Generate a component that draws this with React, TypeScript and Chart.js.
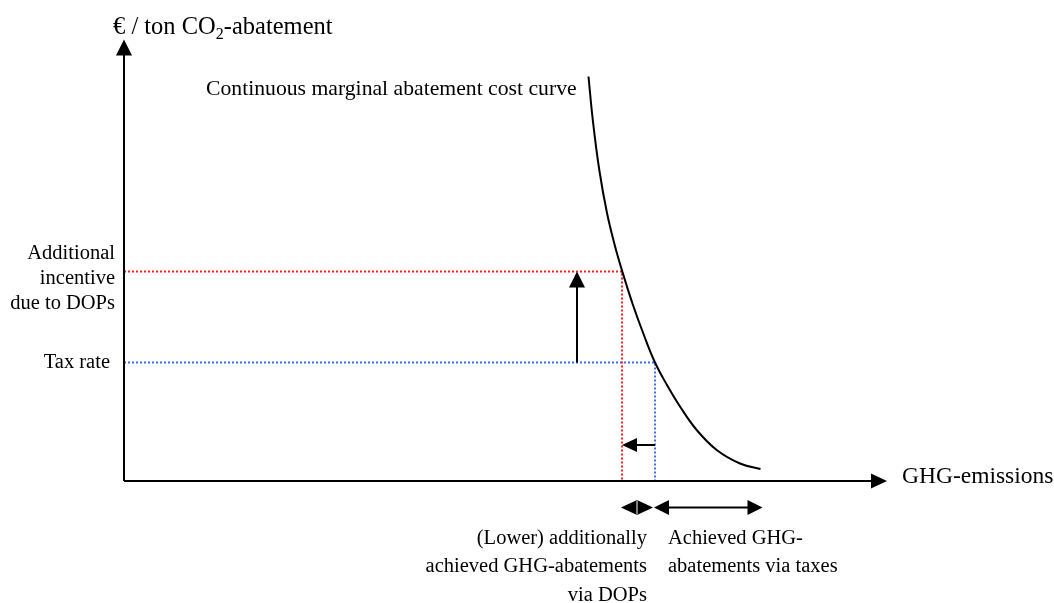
import React, { useEffect, useRef } from "react";
import { Chart, registerables } from "chart.js";

Chart.register(...registerables);

// Marginal abatement cost curve
// x: GHG-emissions (arbitrary units), y: € / ton CO2-abatement (arbitrary units)
const curveEmissions = [46.45, 46.88, 47.53, 48.3, 49.11, 49.83, 50.88, 51.95, 53.1, 54.3, 55.6, 57.27, 59.27, 61.6, 63.65];
const curveCost = [80.9, 72.2, 62.2, 53.6, 46.9, 41.9, 35.3, 29.4, 23.7, 19.2, 14.9, 10.2, 6.2, 3.5, 2.4];

// price levels: [tax rate, tax rate + additional DOP incentive]
const priceLevels = [23.7, 41.9];
// emissions reached at each price level
const emissionLevels = [53.1, 49.8];
// axis extents [x, y]
const axisExtent = [76.3, 88.3];

const yAxisTitle = ["€ / ton CO", "2", "-abatement"];
const xAxisTitle = "GHG-emissions";
const curveLabel = "Continuous marginal abatement cost curve";
const incentiveLabel = ["Additional", "incentive", "due to DOPs"];
const taxLabel = "Tax rate";
const dopAbatementLabel = ["(Lower) additionally", "achieved GHG-abatements", "via DOPs"];
const taxAbatementLabel = ["Achieved GHG-", "abatements via taxes"];

const FONT = '"Liberation Serif", "Times New Roman", serif';

export default function App() {
  const ref = useRef<HTMLCanvasElement | null>(null);

  useEffect(() => {
    if (!ref.current) return;
    const [taxRate, incentive] = priceLevels;
    const [taxX, dopX] = emissionLevels;
    const curveEnd = curveEmissions[curveEmissions.length - 1];

    const pts = (xs: number[], ys: number[]) => xs.map((x, i) => ({ x, y: ys[i] }));

    const annot = {
      id: "annot",
      afterDatasetsDraw(chart: any) {
        const ctx = chart.ctx as CanvasRenderingContext2D;
        const X = (v: number) => chart.scales.x.getPixelForValue(v);
        const Y = (v: number) => chart.scales.y.getPixelForValue(v);

        const head = (tx: number, ty: number, dx: number, dy: number, len: number, half: number) => {
          const nx = -dy, ny = dx;
          ctx.beginPath();
          ctx.moveTo(tx, ty);
          ctx.lineTo(tx - dx * len + nx * half, ty - dy * len + ny * half);
          ctx.lineTo(tx - dx * len - nx * half, ty - dy * len - ny * half);
          ctx.closePath();
          ctx.fill();
        };
        const arrow = (x1: number, y1: number, x2: number, y2: number, both: boolean, len = 16, half = 8) => {
          const ax = X(x1), ay = Y(y1), bx = X(x2), by = Y(y2);
          const d = Math.hypot(bx - ax, by - ay);
          const dx = (bx - ax) / d, dy = (by - ay) / d;
          ctx.save();
          ctx.strokeStyle = "#000";
          ctx.fillStyle = "#000";
          ctx.lineWidth = 2;
          ctx.beginPath();
          ctx.moveTo(both ? ax + dx * len * 0.8 : ax, both ? ay + dy * len * 0.8 : ay);
          ctx.lineTo(bx - dx * len * 0.8, by - dy * len * 0.8);
          ctx.stroke();
          head(bx, by, dx, dy, len, half);
          if (both) head(ax, ay, -dx, -dy, len, half);
          ctx.restore();
        };

        // axes heads
        arrow(0, 0, axisExtent[0], 0, false, 16, 7.5);
        arrow(0, 0, 0, axisExtent[1], false, 16, 8);
        // tax increase arrow
        arrow(45.3, taxRate, 45.3, incentive, false, 16, 8);
        // emission shift arrow
        arrow(taxX, 7.2, dopX, 7.2, false, 15, 7);
        // abatement ranges
        const yb = -5.3;
        arrow(dopX - 0.1, yb, taxX - 0.2, yb, true, 16, 7.5);
        {
          // thin separation between the two small heads
          const mx = (X(dopX - 0.1) + X(taxX - 0.2)) / 2;
          ctx.save();
          ctx.strokeStyle = "#fff";
          ctx.lineWidth = 1;
          ctx.beginPath();
          ctx.moveTo(mx, Y(yb) - 7);
          ctx.lineTo(mx, Y(yb) + 7);
          ctx.stroke();
          ctx.restore();
        }
        arrow(taxX - 0.1, yb, curveEnd + 0.2, yb, true, 15, 7.5);

        // texts
        ctx.save();
        ctx.fillStyle = "#000";
        ctx.textBaseline = "alphabetic";
        const text = (s: string, x: number, y: number, align: CanvasTextAlign, size: number) => {
          ctx.font = `${size}px ${FONT}`;
          ctx.textAlign = align;
          ctx.fillText(s, X(x), Y(y));
        };
        // y-axis title with subscript
        {
          let px = X(-1.1);
          const py = Y(89.5);
          ctx.textAlign = "left";
          ctx.font = `24.5px ${FONT}`;
          ctx.fillText(yAxisTitle[0], px, py);
          px += ctx.measureText(yAxisTitle[0]).width;
          ctx.font = `16px ${FONT}`;
          ctx.fillText(yAxisTitle[1], px, py + 5);
          px += ctx.measureText(yAxisTitle[1]).width;
          ctx.font = `24.5px ${FONT}`;
          ctx.fillText(yAxisTitle[2], px, py);
        }
        text(curveLabel, 8.2, 77.2, "left", 21.7);
        incentiveLabel.forEach((s, i) => text(s, -0.9, 44.5 - i * 5, "right", 20.5));
        text(taxLabel, -1.4, 22.7, "right", 20.5);
        text(xAxisTitle, 77.8, -0.4, "left", 23.5);
        dopAbatementLabel.forEach((s, i) => text(s, 52.3, -12.6 - i * 5.65, "right", 20.5));
        taxAbatementLabel.forEach((s, i) => text(s, 54.4, -12.6 - i * 5.65, "left", 20.5));
        ctx.restore();
      },
    };

    const chart = new Chart(ref.current, {
      type: "scatter",
      data: {
        datasets: [
          {
            data: pts(curveEmissions, curveCost),
            showLine: true,
            borderColor: "#000",
            borderWidth: 2,
            pointRadius: 0,
            tension: 0.4,
          },
          {
            data: [{ x: 0, y: 0 }, { x: axisExtent[0] - 1, y: 0 }],
            showLine: true,
            borderColor: "#000",
            borderWidth: 2,
            pointRadius: 0,
          },
          {
            data: [{ x: 0, y: 0 }, { x: 0, y: axisExtent[1] - 2 }],
            showLine: true,
            borderColor: "#000",
            borderWidth: 2,
            pointRadius: 0,
          },
          {
            data: [{ x: 0, y: incentive }, { x: dopX, y: incentive }, { x: dopX, y: 0 }],
            showLine: true,
            borderColor: "#ff2020",
            borderWidth: 2,
            borderDash: [2, 2],
            pointRadius: 0,
          },
          {
            data: [{ x: 0, y: taxRate }, { x: taxX, y: taxRate }, { x: taxX, y: 0 }],
            showLine: true,
            borderColor: "#3d6cf0",
            borderWidth: 2,
            borderDash: [2, 2],
            pointRadius: 0,
          },
        ],
      },
      options: {
        animation: false,
        responsive: false,
        devicePixelRatio: 1,
        layout: { padding: 0 },
        plugins: { legend: { display: false }, tooltip: { enabled: false }, title: { display: false } },
        events: [],
        scales: {
          x: { type: "linear", min: -12.4, max: 93.0, display: false },
          y: { type: "linear", min: -24.4, max: 96.2, display: false },
        },
      },
      plugins: [annot],
    });
    return () => chart.destroy();
  }, []);

  return (
    <div style={{ position: "fixed", left: 0, top: 0, width: 1054, height: 603, background: "#fff" }}>
      <canvas ref={ref} width={1054} height={603} />
    </div>
  );
}
